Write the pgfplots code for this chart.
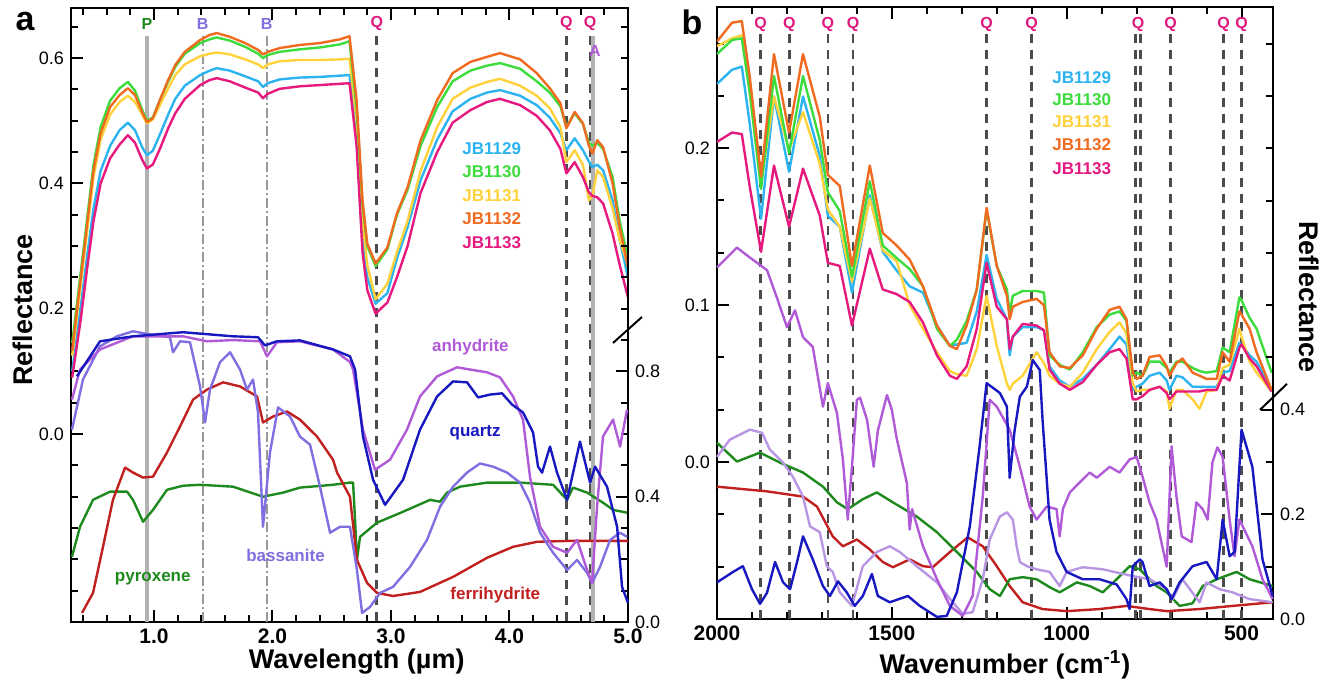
\documentclass[border=0pt]{standalone}
\usepackage{fontspec}
\setmainfont{Liberation Sans}
\usepackage{pgfplots}
\usepackage{pgfplotstable}
\pgfplotsset{compat=1.18}

\definecolor{cA}{HTML}{2DB4F0}
\definecolor{cB}{HTML}{3CDC3C}
\definecolor{cC}{HTML}{FFD23C}
\definecolor{cD}{HTML}{F06A20}
\definecolor{cE}{HTML}{E6197F}
\definecolor{qtz}{HTML}{1818C0}
\definecolor{anh}{HTML}{B05AD8}
\definecolor{bas}{HTML}{7F6FE0}
\definecolor{basb}{HTML}{B996E3}
\definecolor{fer}{HTML}{C0201E}
\definecolor{pyx}{HTML}{1E8A1E}
\definecolor{qlab}{HTML}{E0197F}

% panel a, sample spectra (reflectance, left scale)
\pgfplotstableread{
x O G Y C M
0.31 0.133 0.145 0.125 0.10 0.09
0.38 0.245 0.255 0.235 0.20 0.18
0.44 0.341 0.350 0.330 0.29 0.27
0.49 0.421 0.430 0.410 0.36 0.34
0.55 0.480 0.490 0.470 0.42 0.40
0.63 0.522 0.532 0.510 0.46 0.44
0.71 0.541 0.552 0.530 0.485 0.462
0.78 0.552 0.562 0.540 0.497 0.477
0.84 0.541 0.548 0.530 0.485 0.465
0.90 0.514 0.518 0.510 0.458 0.438
0.94 0.498 0.500 0.496 0.445 0.424
0.99 0.504 0.505 0.502 0.452 0.430
1.05 0.533 0.533 0.525 0.478 0.455
1.12 0.565 0.563 0.552 0.510 0.488
1.18 0.589 0.586 0.573 0.535 0.512
1.26 0.610 0.607 0.590 0.556 0.535
1.39 0.629 0.624 0.603 0.573 0.557
1.47 0.637 0.630 0.607 0.580 0.565
1.53 0.640 0.633 0.609 0.584 0.568
1.64 0.634 0.628 0.606 0.580 0.563
1.77 0.624 0.618 0.598 0.571 0.553
1.88 0.613 0.607 0.590 0.563 0.545
1.92 0.606 0.600 0.584 0.554 0.536
1.96 0.610 0.605 0.590 0.560 0.543
2.06 0.616 0.610 0.595 0.566 0.551
2.23 0.621 0.614 0.597 0.569 0.555
2.40 0.624 0.617 0.597 0.570 0.557
2.57 0.630 0.622 0.598 0.572 0.559
2.65 0.635 0.627 0.599 0.573 0.560
2.71 0.533 0.520 0.500 0.470 0.460
2.76 0.373 0.365 0.340 0.310 0.290
2.80 0.304 0.300 0.270 0.250 0.230
2.87 0.272 0.268 0.215 0.208 0.192
2.97 0.298 0.295 0.240 0.225 0.210
3.05 0.352 0.350 0.290 0.280 0.250
3.14 0.394 0.390 0.340 0.330 0.300
3.25 0.469 0.460 0.420 0.405 0.385
3.39 0.533 0.522 0.490 0.470 0.450
3.52 0.576 0.563 0.535 0.515 0.497
3.67 0.594 0.580 0.553 0.535 0.517
3.81 0.602 0.588 0.562 0.545 0.530
3.92 0.608 0.592 0.567 0.549 0.535
4.09 0.598 0.583 0.556 0.540 0.525
4.23 0.576 0.563 0.540 0.525 0.508
4.34 0.552 0.545 0.520 0.505 0.485
4.43 0.528 0.523 0.490 0.480 0.455
4.48 0.488 0.490 0.434 0.453 0.416
4.55 0.514 0.512 0.453 0.472 0.434
4.62 0.496 0.495 0.430 0.453 0.410
4.67 0.460 0.465 0.373 0.435 0.386
4.70 0.448 0.460 0.380 0.426 0.380
4.74 0.469 0.465 0.421 0.430 0.378
4.79 0.458 0.455 0.410 0.421 0.368
4.87 0.400 0.410 0.360 0.373 0.320
4.93 0.330 0.340 0.310 0.310 0.270
5.00 0.266 0.280 0.270 0.250 0.218
}\sampA

% panel b, sample spectra (reflectance, left scale)
\pgfplotstableread{
w O G Y C M
2000 0.268 0.260 0.265 0.241 0.204
1957 0.280 0.269 0.270 0.250 0.210
1929 0.281 0.270 0.272 0.252 0.209
1906 0.245 0.235 0.235 0.215 0.175
1874 0.182 0.174 0.178 0.155 0.134
1837 0.260 0.246 0.233 0.233 0.189
1794 0.210 0.197 0.199 0.185 0.150
1754 0.260 0.246 0.223 0.233 0.187
1706 0.220 0.205 0.190 0.195 0.157
1683 0.183 0.172 0.161 0.157 0.127
1649 0.176 0.160 0.150 0.150 0.125
1614 0.125 0.118 0.115 0.108 0.087
1563 0.189 0.179 0.168 0.170 0.136
1526 0.146 0.138 0.135 0.134 0.110
1486 0.138 0.130 0.128 0.122 0.107
1449 0.129 0.123 0.100 0.112 0.102
1411 0.112 0.112 0.085 0.108 0.089
1371 0.087 0.085 0.070 0.087 0.068
1334 0.074 0.074 0.058 0.074 0.055
1314 0.072 0.078 0.056 0.075 0.053
1286 0.087 0.090 0.055 0.076 0.061
1257 0.110 0.110 0.072 0.096 0.085
1229 0.162 0.161 0.106 0.132 0.127
1200 0.125 0.125 0.074 0.104 0.099
1171 0.106 0.110 0.050 0.091 0.091
1163 0.091 0.095 0.046 0.068 0.072
1154 0.099 0.106 0.050 0.080 0.080
1126 0.102 0.109 0.055 0.086 0.088
1086 0.104 0.109 0.070 0.086 0.087
1065 0.100 0.108 0.063 0.084 0.084
1049 0.070 0.068 0.055 0.061 0.059
1020 0.061 0.062 0.050 0.052 0.050
991 0.060 0.059 0.048 0.048 0.046
954 0.068 0.070 0.057 0.053 0.051
914 0.085 0.086 0.072 0.062 0.062
877 0.097 0.094 0.083 0.072 0.070
849 0.099 0.096 0.089 0.080 0.072
829 0.091 0.090 0.082 0.075 0.066
811 0.057 0.055 0.050 0.046 0.040
800 0.053 0.057 0.045 0.048 0.040
783 0.055 0.055 0.046 0.050 0.042
763 0.067 0.064 0.046 0.055 0.046
734 0.068 0.064 0.048 0.057 0.048
714 0.061 0.060 0.045 0.052 0.044
706 0.055 0.057 0.034 0.046 0.040
686 0.063 0.064 0.046 0.055 0.045
669 0.066 0.064 0.046 0.054 0.045
640 0.057 0.060 0.040 0.048 0.045
620 0.055 0.058 0.034 0.048 0.045
600 0.053 0.057 0.045 0.048 0.046
571 0.053 0.058 0.046 0.048 0.046
554 0.070 0.073 0.060 0.057 0.055
534 0.064 0.070 0.062 0.058 0.052
506 0.096 0.105 0.085 0.076 0.073
500 0.094 0.103 0.080 0.075 0.075
477 0.085 0.092 0.064 0.068 0.066
457 0.070 0.085 0.057 0.064 0.061
414 0.046 0.057 0.045 0.046 0.045
}\sampB

\tikzset{
  qline/.style={line width=1.3pt, color=black!70, dash pattern=on 4.5pt off 3.5pt},
  bline/.style={line width=1pt, color=black!40, dash pattern=on 5pt off 1.5pt on 1pt off 1.5pt},
  pline/.style={line width=2pt, color=black!30},
  lab/.style={font=\bfseries\fontsize{8}{9}\selectfont},
  leg/.style={font=\bfseries\fontsize{8.5}{10}\selectfont},
}
\pgfplotsset{
  panel/.style={
    scale only axis, tick align=inside,
    axis line style={line width=1.3pt},
    tick style={line width=1pt, black},
    major tick length=6pt, minor tick length=3.5pt,
    /pgf/number format/assume math mode=true,
    yticklabel style={font=\fontsize{9}{10}\selectfont,
      /pgf/number format/fixed, /pgf/number format/fixed zerofill,
      /pgf/number format/precision=1},
    every axis plot/.append style={line width=1.2pt, line join=round},
  },
}

\begin{document}
\begin{tikzpicture}
\path[use as bounding box] (0,0) rectangle (670.5pt,-345pt);

% ---------------- panel a ----------------
\begin{axis}[panel, at={(35.5pt,-311pt)}, anchor=south west,
  width=278.5pt, height=307pt,
  xmin=0.3, xmax=5, ymin=-0.3, ymax=0.68,
  xtick={1,2,3,4,5},
  minor xtick={0.4,0.6,0.8,1.2,1.4,1.6,1.8,2.2,2.4,2.6,2.8,3.2,3.4,3.6,3.8,4.2,4.4,4.6,4.8},
  xticklabel style={font=\bfseries\fontsize{10.5}{12}\selectfont,
    /pgf/number format/fixed, /pgf/number format/fixed zerofill,
    /pgf/number format/precision=1},
  ytick={0,0.2,0.4,0.6},
  minor ytick={-0.25,-0.2,-0.15,-0.1,-0.05,0.05,0.1,0.15,0.25,0.3,0.35,0.45,0.5,0.55,0.65},
  ytick pos=left,
  xlabel={Wavelength (µm)}, ylabel={Reflectance},
  label style={font=\bfseries\fontsize{13.5}{15}\selectfont},
  xlabel style={at={(axis description cs:0.513,-0.065)}, anchor=center},
  ylabel style={at={(axis description cs:-0.086,0.508)}, anchor=center},
]
\addplot[pline] coordinates {(0.94,0.635) (0.94,-0.3)};
\addplot[pline] coordinates {(4.705,0.635) (4.705,-0.3)};
\addplot[bline] coordinates {(1.41,0.635) (1.41,-0.3)};
\addplot[bline] coordinates {(1.95,0.635) (1.95,-0.3)};
\addplot[qline] coordinates {(2.88,0.635) (2.88,-0.3)};
\addplot[qline] coordinates {(4.48,0.635) (4.48,-0.3)};
\addplot[qline] coordinates {(4.68,0.635) (4.68,-0.3)};

\addplot[cA] table[x=x, y=C] {\sampA};
\addplot[cC] table[x=x, y=Y] {\sampA};
\addplot[cE] table[x=x, y=M] {\sampA};
\addplot[cB] table[x=x, y=G] {\sampA};
\addplot[cD] table[x=x, y=O] {\sampA};

\node[lab, text=pyx] at (axis cs:0.94,0.655) {P};
\node[lab, text=bas] at (axis cs:1.41,0.655) {B};
\node[lab, text=bas] at (axis cs:1.95,0.655) {B};
\node[lab, text=qlab] at (axis cs:2.88,0.655) {Q};
\node[lab, text=qlab] at (axis cs:4.48,0.655) {Q};
\node[lab, text=qlab] at (axis cs:4.68,0.655) {Q};
\node[lab, text=anh] at (axis cs:4.72,0.612) {A};

\node[leg, text=cA] at (axis cs:3.85,0.456) {JB1129};
\node[leg, text=cB] at (axis cs:3.85,0.419) {JB1130};
\node[leg, text=cC] at (axis cs:3.85,0.381) {JB1131};
\node[leg, text=cD] at (axis cs:3.85,0.344) {JB1132};
\node[leg, text=cE] at (axis cs:3.85,0.306) {JB1133};
\end{axis}

% panel a, reference minerals (right scale)
\begin{axis}[panel, at={(35.5pt,-311pt)}, anchor=south west,
  width=278.5pt, height=307pt, clip=false,
  xmin=0.3, xmax=5, ymin=0, ymax=1.96,
  axis x line=none, axis y line*=right,
  ytick={0,0.4,0.8},
  minor ytick={0.1,0.2,0.3,0.5,0.6,0.7,0.9,1.0,1.1,1.2,1.3,1.4,1.5,1.6,1.7,1.8,1.9},
]
\addplot[pyx] coordinates {(0.308,0.208)(0.376,0.304)(0.486,0.39)(0.629,0.416)(0.773,0.416)(0.823,0.39)(0.908,0.32)(0.992,0.358)(1.110,0.422)(1.245,0.435)(1.389,0.438)(1.667,0.432)(1.920,0.40)(2.089,0.413)(2.232,0.429)(2.511,0.438)(2.654,0.445)(2.680,0.445)(2.697,0.326)(2.713,0.198)(2.739,0.272)(2.882,0.317)(3.102,0.352)(3.330,0.39)(3.414,0.384)(3.473,0.413)(3.583,0.432)(3.811,0.445)(4.089,0.445)(4.368,0.438)(4.486,0.39)(4.536,0.429)(4.655,0.413)(4.789,0.381)(4.874,0.358)(4.992,0.349)};
\addplot[fer] coordinates {(0.393,0.029)(0.486,0.093)(0.570,0.24)(0.654,0.39)(0.756,0.493)(0.823,0.477)(0.908,0.461)(0.992,0.464)(1.110,0.541)(1.220,0.624)(1.330,0.71)(1.448,0.742)(1.583,0.765)(1.726,0.752)(1.870,0.72)(1.920,0.637)(2.005,0.656)(2.123,0.672)(2.232,0.646)(2.376,0.592)(2.511,0.518)(2.545,0.477)(2.654,0.40)(2.713,0.198)(2.798,0.125)(2.882,0.093)(3.017,0.083)(3.245,0.096)(3.524,0.144)(3.811,0.205)(4.030,0.24)(4.232,0.256)(4.511,0.259)(5.0,0.259)};
\addplot[bas] coordinates {(0.308,0.614)(0.401,0.774)(0.545,0.88)(0.688,0.912)(0.823,0.928)(0.967,0.918)(1.135,0.909)(1.161,0.861)(1.22,0.896)(1.304,0.893)(1.389,0.752)(1.431,0.637)(1.473,0.742)(1.557,0.829)(1.642,0.861)(1.726,0.806)(1.785,0.742)(1.836,0.774)(1.878,0.669)(1.920,0.304)(1.979,0.541)(2.047,0.685)(2.148,0.656)(2.232,0.592)(2.317,0.566)(2.401,0.432)(2.486,0.285)(2.570,0.304)(2.654,0.304)(2.713,0.166)(2.756,0.029)(2.823,0.048)(2.908,0.093)(3.017,0.112)(3.161,0.176)(3.304,0.262)(3.414,0.368)(3.524,0.432)(3.642,0.477)(3.751,0.506)(3.861,0.496)(3.979,0.477)(4.089,0.445)(4.173,0.381)(4.258,0.285)(4.368,0.221)(4.486,0.166)(4.570,0.198)(4.655,0.157)(4.697,0.125)(4.764,0.176)(4.849,0.262)(4.933,0.285)(4.992,0.272)};
\addplot[anh] coordinates {(0.308,0.71)(0.376,0.806)(0.545,0.870)(0.823,0.912)(1.245,0.912)(1.448,0.896)(1.667,0.90)(1.895,0.896)(1.954,0.848)(2.038,0.893)(2.232,0.896)(2.511,0.87)(2.654,0.83)(2.68,0.806)(2.764,0.614)(2.865,0.486)(2.992,0.518)(3.135,0.614)(3.245,0.72)(3.389,0.784)(3.557,0.813)(3.667,0.806)(3.811,0.797)(3.920,0.781)(4.030,0.72)(4.114,0.646)(4.173,0.464)(4.258,0.304)(4.368,0.24)(4.486,0.221)(4.570,0.262)(4.655,0.166)(4.697,0.125)(4.739,0.368)(4.789,0.592)(4.874,0.646)(4.933,0.56)(4.992,0.678)};
\addplot[qtz] coordinates {(0.35,0.784)(0.545,0.896)(0.823,0.912)(1.245,0.925)(1.667,0.912)(1.878,0.909)(1.937,0.883)(2.038,0.896)(2.232,0.899)(2.511,0.870)(2.654,0.848)(2.697,0.806)(2.764,0.592)(2.849,0.454)(2.950,0.374)(3.102,0.454)(3.245,0.614)(3.389,0.72)(3.524,0.768)(3.642,0.765)(3.735,0.717)(3.836,0.726)(3.937,0.73)(4.022,0.694)(4.114,0.669)(4.199,0.605)(4.241,0.496)(4.275,0.477)(4.342,0.56)(4.401,0.477)(4.486,0.39)(4.595,0.576)(4.680,0.445)(4.722,0.496)(4.823,0.432)(4.908,0.304)(4.950,0.112)(5.0,0.061)};

\node[leg, text=anh] at (axis cs:3.67,0.877) {anhydrite};
\node[leg, text=qtz] at (axis cs:3.71,0.605) {quartz};
\node[leg, text=fer] at (axis cs:3.88,0.086) {ferrihydrite};
\node[leg, text=bas] at (axis cs:2.11,0.214) {bassanite};
\node[leg, text=pyx] at (axis cs:0.99,0.138) {pyroxene};

\draw[line width=1pt] ([shift={(-7.5pt,-6.5pt)}]rel axis cs:1,0.4756) -- ([shift={(7pt,6.5pt)}]rel axis cs:1,0.4756);
\end{axis}

% ---------------- panel b ----------------
\begin{axis}[panel, at={(358.5pt,-309.5pt)}, anchor=south west,
  width=278pt, height=306pt,
  x dir=reverse, xmin=410, xmax=2000, ymin=-0.1, ymax=0.29,
  xtick={500,1000,1500,2000},
  minor xtick={600,700,800,900,1100,1200,1300,1400,1600,1700,1800,1900},
  xticklabel style={font=\bfseries\fontsize{10.5}{12}\selectfont,
    /pgf/number format/set thousands separator={}},
  ytick={0,0.1,0.2},
  minor ytick={-0.0667,-0.0333,0.0333,0.0667,0.1333,0.1667,0.2333,0.2667},
  ytick pos=left,
  xlabel={Wavenumber (cm\textsuperscript{-1})},
  label style={font=\bfseries\fontsize{13.5}{15}\selectfont},
  xlabel style={at={(axis description cs:0.518,-0.075)}, anchor=center},
]
\pgfplotsinvokeforeach{1875,1793,1683,1611,1229,1100,803,789,703,551,500}{
  \addplot[qline] coordinates {(#1,0.273) (#1,-0.1)};
}

\addplot[cA] table[x=w, y=C] {\sampB};
\addplot[cC] table[x=w, y=Y] {\sampB};
\addplot[cE] table[x=w, y=M] {\sampB};
\addplot[cB] table[x=w, y=G] {\sampB};
\addplot[cD] table[x=w, y=O] {\sampB};

\pgfplotsinvokeforeach{1875,1793,1683,1611,1229,1100,796,703,551,500}{
  \node[lab, text=qlab] at (axis cs:#1,0.279) {Q};
}

\node[leg, text=cA] at (axis cs:957,0.245) {JB1129};
\node[leg, text=cB] at (axis cs:957,0.231) {JB1130};
\node[leg, text=cC] at (axis cs:957,0.217) {JB1131};
\node[leg, text=cD] at (axis cs:957,0.202) {JB1132};
\node[leg, text=cE] at (axis cs:957,0.187) {JB1133};
\end{axis}

% panel b, reference minerals (right scale)
\begin{axis}[panel, at={(358.5pt,-309.5pt)}, anchor=south west,
  width=278pt, height=306pt, clip=false,
  x dir=reverse, xmin=410, xmax=2000, ymin=0, ymax=1.17,
  axis x line=none, axis y line*=right,
  ytick={0,0.2,0.4},
  minor ytick={0.1,0.3,0.5,0.6,0.7,0.8,0.9,1.0,1.1},
  ylabel={Reflectance},
  label style={font=\bfseries\fontsize{13.5}{15}\selectfont},
  ylabel style={at={(axis description cs:1.065,0.526)}, anchor=center, rotate=180},
]
\addplot[fer] coordinates {(2000,0.253)(1857,0.244)(1754,0.234)(1714,0.215)(1669,0.158)(1640,0.139)(1600,0.152)(1563,0.133)(1526,0.109)(1497,0.099)(1449,0.114)(1411,0.101)(1383,0.099)(1334,0.128)(1283,0.156)(1240,0.139)(1200,0.101)(1163,0.063)(1126,0.032)(1069,0.019)(1000,0.015)(906,0.019)(829,0.025)(763,0.019)(714,0.015)(620,0.019)(526,0.025)(411,0.032)};
\addplot[pyx] coordinates {(2000,0.337)(1943,0.301)(1877,0.318)(1820,0.299)(1754,0.28)(1697,0.253)(1657,0.223)(1626,0.21)(1583,0.229)(1543,0.242)(1497,0.223)(1429,0.196)(1371,0.166)(1314,0.128)(1257,0.09)(1220,0.057)(1191,0.044)(1163,0.076)(1126,0.08)(1086,0.076)(1049,0.061)(1020,0.051)(971,0.07)(934,0.063)(897,0.051)(857,0.076)(820,0.101)(791,0.095)(763,0.076)(743,0.063)(714,0.051)(677,0.025)(640,0.03)(611,0.063)(571,0.076)(514,0.09)(477,0.076)(411,0.063)};
\addplot[basb] coordinates {(2000,0.31)(1963,0.343)(1906,0.362)(1871,0.356)(1849,0.324)(1811,0.299)(1783,0.272)(1754,0.234)(1734,0.177)(1706,0.166)(1686,0.101)(1669,0.09)(1649,0.051)(1614,0.025)(1583,0.101)(1543,0.128)(1506,0.139)(1477,0.128)(1429,0.101)(1371,0.070)(1326,0.032)(1297,0.01)(1269,0.013)(1240,0.076)(1220,0.152)(1191,0.196)(1171,0.204)(1154,0.19)(1143,0.139)(1134,0.109)(1114,0.101)(1086,0.095)(1049,0.09)(1020,0.063)(1000,0.09)(954,0.099)(897,0.095)(811,0.082)(763,0.076)(714,0.057)(697,0.038)(669,0.076)(620,0.032)(600,0.07)(563,0.057)(526,0.051)(477,0.038)(411,0.032)};
\addplot[anh] coordinates {(2000,0.672)(1943,0.710)(1906,0.691)(1857,0.667)(1829,0.615)(1800,0.558)(1777,0.590)(1754,0.539)(1726,0.52)(1697,0.406)(1683,0.451)(1657,0.394)(1640,0.305)(1626,0.19)(1611,0.318)(1600,0.419)(1591,0.423)(1571,0.381)(1552,0.291)(1540,0.36)(1514,0.428)(1500,0.40)(1486,0.345)(1457,0.26)(1449,0.171)(1442,0.21)(1411,0.139)(1371,0.076)(1334,0.025)(1297,0.006)(1269,0.044)(1240,0.234)(1220,0.419)(1200,0.406)(1163,0.362)(1134,0.291)(1106,0.215)(1086,0.19)(1057,0.215)(1029,0.21)(1020,0.158)(1011,0.21)(991,0.242)(954,0.267)(934,0.28)(914,0.27)(877,0.291)(849,0.28)(820,0.305)(800,0.31)(783,0.272)(763,0.223)(743,0.19)(714,0.10)(700,0.33)(686,0.234)(671,0.158)(643,0.147)(629,0.223)(611,0.21)(597,0.19)(583,0.30)(569,0.328)(554,0.31)(534,0.19)(520,0.12)(506,0.19)(469,0.139)(440,0.076)(411,0.038)};
\addplot[qtz] coordinates {(2000,0.07)(1954,0.09)(1926,0.101)(1900,0.057)(1877,0.029)(1857,0.05)(1834,0.109)(1811,0.07)(1791,0.057)(1771,0.109)(1754,0.158)(1726,0.114)(1697,0.063)(1677,0.044)(1654,0.072)(1629,0.051)(1606,0.025)(1583,0.044)(1557,0.086)(1540,0.044)(1506,0.032)(1454,0.044)(1420,0.025)(1371,0.004)(1343,0.006)(1314,0.051)(1277,0.177)(1249,0.33)(1229,0.451)(1191,0.432)(1171,0.406)(1163,0.270)(1149,0.36)(1134,0.425)(1114,0.444)(1097,0.495)(1077,0.476)(1069,0.381)(1049,0.19)(1029,0.128)(1000,0.09)(954,0.076)(906,0.076)(857,0.066)(829,0.038)(820,0.019)(811,0.101)(791,0.114)(783,0.109)(763,0.063)(734,0.07)(714,0.057)(700,0.038)(677,0.07)(640,0.101)(600,0.109)(571,0.076)(554,0.19)(534,0.12)(520,0.128)(500,0.362)(469,0.291)(440,0.114)(411,0.044)};

\draw[line width=1pt] ([shift={(-6.5pt,-6.5pt)}]rel axis cs:1,0.363) -- ([shift={(7pt,6.5pt)}]rel axis cs:1,0.363);
\end{axis}

\node[font=\bfseries\fontsize{17}{20}\selectfont] at (12.5pt,-11pt) {a};
\node[font=\bfseries\fontsize{17}{20}\selectfont] at (346pt,-11pt) {b};
\end{tikzpicture}
\end{document}
